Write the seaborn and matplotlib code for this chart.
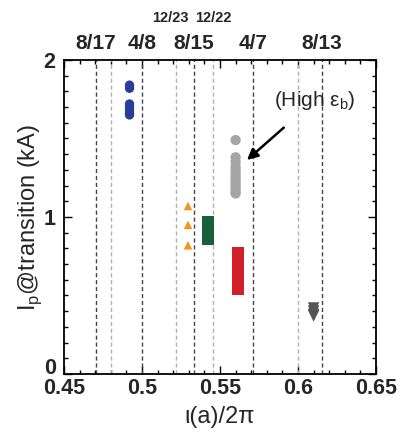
import numpy as np
import pandas as pd
import seaborn as sns
import matplotlib
matplotlib.use("Agg")
import matplotlib.pyplot as plt
import matplotlib.transforms as mtrans
from matplotlib.ticker import MultipleLocator

sns.set_theme(style="ticks")
plt.rcParams['font.family'] = ['Liberation Sans', 'DejaVu Sans']

# ---- data ----
rational_dark = [8/17, 4/8, 8/15, 4/7, 8/13]
rational_dark_labels = ["8/17", "4/8", "8/15", "4/7", "8/13"]
rational_light = [12/25, 12/23, 12/22, 12/20]
rational_light_labels = ["", "12/23", "12/22", ""]

blue_x = 0.492
blue_y = [1.84, 1.82, 1.72, 1.70, 1.68, 1.66, 1.65]
orange_x = 0.5295
orange_y = [1.07, 0.95, 0.82]
green_x = 0.5425
green_y = [0.97, 0.95, 0.93, 0.91, 0.89, 0.87, 0.86]
gray_x = 0.560
gray_y = [1.49, 1.38, 1.35, 1.32, 1.30, 1.28, 1.26, 1.24, 1.22, 1.20, 1.18, 1.16, 1.15]
red_x = 0.5615
red_y = [0.77, 0.74, 0.71, 0.68, 0.65, 0.62, 0.59, 0.56, 0.54]
dgray_x = 0.610
dgray_y = [0.42, 0.40, 0.38, 0.37]

groups = [
    ("blue", blue_x, blue_y, "o", "#2b3d9c", 45),
    ("orange", orange_x, orange_y, "^", "#f7931e", 38),
    ("green", green_x, green_y, "s", "#17603a", 78),
    ("gray", gray_x, gray_y, "o", "#a5a5a5", 55),
    ("red", red_x, red_y, "s", "#d1202a", 78),
    ("dgray", dgray_x, dgray_y, "v", "#555555", 70),
]

rows = []
for name, x, ys, m, c, s in groups:
    for y in ys:
        rows.append({"group": name, "x": x, "y": y})
df = pd.DataFrame(rows)

fig = plt.figure(figsize=(4.0, 4.36), dpi=100)
ax = fig.add_axes([0.16, 0.1422, 0.78, 0.7202])

for xv in rational_light:
    ax.axvline(xv, color="#b0b0b0", lw=1.0, ls=(0, (3, 2)), zorder=1)
for xv in rational_dark:
    ax.axvline(xv, color="#444444", lw=1.0, ls=(0, (3, 2)), zorder=1)

for name, x, ys, m, c, s in groups:
    sub = df[df.group == name]
    sns.scatterplot(data=sub, x="x", y="y", marker=m, color=c, s=s,
                    edgecolor="none", linewidth=0, ax=ax, zorder=3, legend=False)

ax.set_xlim(0.45, 0.65)
ax.set_ylim(0, 2)
ax.xaxis.set_minor_locator(MultipleLocator(0.01))
ax.yaxis.set_minor_locator(MultipleLocator(0.1))
ax.set_xticks([0.45, 0.5, 0.55, 0.6, 0.65])
ax.set_xticklabels(["0.45", "0.5", "0.55", "0.6", "0.65"])
ax.set_yticks([0, 1, 2])
ax.set_yticklabels(["0", "1", "2"])
ax.tick_params(which="both", direction="in", top=True, right=True, width=1.0, color="black")
ax.tick_params(which="major", length=6, labelsize=15.5)
ax.tick_params(axis="x", which="major", pad=3)
ax.tick_params(axis="y", which="major", pad=6)
for lbl in ax.get_xticklabels() + ax.get_yticklabels():
    lbl.set_fontweight("bold")
# nudge the "0" label up, as in the reference
ylbl0 = ax.get_yticklabels()[0]
ylbl0.set_transform(ylbl0.get_transform() + mtrans.ScaledTranslation(0, 8/100, fig.dpi_scale_trans))
ax.tick_params(which="minor", length=3)
for sp in ax.spines.values():
    sp.set_linewidth(1.3)
    sp.set_color("black")

ax.set_xlabel("\u03b9(a)/2\u03c0", fontsize=17, labelpad=5)
ax.set_ylabel("I$_\\mathregular{p}$@transition (kA)", fontsize=17, labelpad=0)

for xv, lab in zip(rational_dark, rational_dark_labels):
    ax.text(xv, 2.105, lab, ha="center", va="center", fontsize=15, fontweight="bold",
            clip_on=False)
offsets = {"12/23": -0.0035, "12/22": 0.0}
for xv, lab in zip(rational_light, rational_light_labels):
    if lab:
        ax.text(xv + offsets[lab], 2.27, lab, ha="center", va="center",
                fontsize=10.5, fontweight="bold", clip_on=False)

ax.annotate("(High \u03b5$_\\mathregular{b}$)", xy=(0.5673, 1.363), xytext=(0.611, 1.745),
            ha="center", va="center", fontsize=15,
            arrowprops=dict(arrowstyle="-|>", color="black", lw=1.8, mutation_scale=16,
                            shrinkA=14, shrinkB=0))

fig.savefig("out.png", dpi=100)
